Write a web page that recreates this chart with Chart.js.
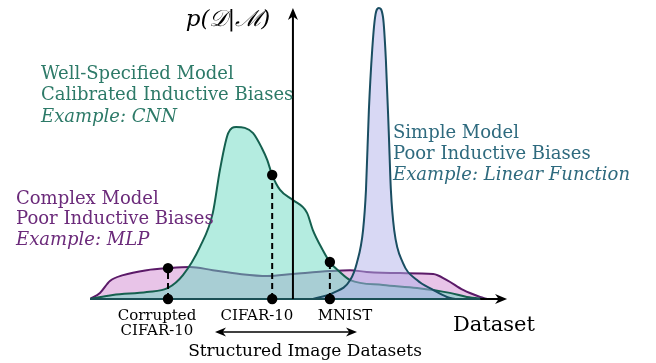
<!DOCTYPE html>
<html><head><meta charset="utf-8">
<script src="https://cdn.jsdelivr.net/npm/chart.js@4"></script>
<style>html,body{margin:0;padding:0;background:#fff;}#wrap{width:656px;height:363px;position:relative}</style>
</head><body><div id="wrap"><canvas id="c"></canvas></div>
<script>
// Complex model (MLP) density over datasets
const mlpX = [0, 2.4, 4.8, 8.0, 13.7, 18.8, 24.1, 29.6, 36.1, 42.7, 48.9, 57.8, 62.7, 66.7, 74.7, 82.7, 86.0, 89.9, 94.0, 95.7];
const mlpY = [0, 2.1, 6.2, 8.2, 9.9, 10.6, 11.0, 9.9, 8.6, 7.9, 8.6, 9.6, 9.9, 9.3, 8.9, 8.6, 6.5, 3.1, 0.7, 0];
// Well-specified model (CNN)
const cnnX = [0, 5.5, 13.7, 18.8, 22.4, 26.5, 29.6, 31.3, 33.3, 35.2, 37.3, 39.3, 41.4, 42.7, 43.9, 45.8, 48.9, 52.3, 53.7, 56.1, 57.8, 60.2, 62.7, 70.6, 78.8, 86.7, 90.8, 95.2];
const cnnY = [0, 1.4, 2.4, 3.8, 8.2, 17.9, 29.6, 44.3, 57.0, 59.1, 58.8, 57.0, 51.9, 47.8, 42.6, 37.5, 34.0, 29.6, 23.7, 16.8, 12.7, 9.3, 6.5, 4.8, 3.8, 2.1, 0.7, 0];
// Simple model (linear function)
const linX = [53.7, 58.6, 62.7, 64.3, 65.8, 66.5, 67.2, 68.0, 68.7, 69.6, 70.6, 71.3, 72.0, 72.5, 73.3, 75.4, 78.8, 82.7, 86.0, 88.0];
const linY = [0, 2.1, 6.5, 12.4, 23.7, 37.5, 64.9, 85.6, 96.9, 100, 96.9, 82.1, 57.0, 37.5, 23.7, 12.4, 6.5, 3.1, 0.7, 0];
// Marked datasets
const dataNames = [["Corrupted", "CIFAR-10"], ["CIFAR-10"], ["MNIST"]];
const dataX = [18.8, 43.9, 57.8];
const dataY = [10.6, 42.6, 12.7];

const pts = (xs, ys) => xs.map((x, i) => ({x, y: ys[i]}));
const SERIF = '"DejaVu Serif", "Liberation Serif", serif';

const datasets = [
  {label: 'MLP', data: pts(mlpX, mlpY), borderColor: '#5b1a68', backgroundColor: 'rgba(209,137,209,0.5)', fill: 'origin', borderWidth: 2, pointRadius: 0, cubicInterpolationMode: 'monotone', order: 5},
  {label: 'CNN', data: pts(cnnX, cnnY), borderColor: '#15604f', backgroundColor: 'rgba(105,217,193,0.5)', fill: 'origin', borderWidth: 2, pointRadius: 0, cubicInterpolationMode: 'monotone', order: 4},
  {label: 'Linear', data: pts(linX, linY), borderColor: '#1a4e62', backgroundColor: 'rgba(177,177,233,0.5)', fill: 'origin', borderWidth: 2, pointRadius: 0, cubicInterpolationMode: 'monotone', order: 3, clip: false},
];
dataX.forEach((x, i) => {
  datasets.push({label: 'drop' + i, data: [{x, y: 0}, {x, y: dataY[i]}], borderColor: '#000', borderWidth: 2, borderDash: [6, 4], pointRadius: 0, fill: false, order: 2, clip: false});
});
datasets.push({label: 'dots', data: dataX.flatMap((x, i) => [{x, y: 0}, {x, y: dataY[i]}]), showLine: false, pointRadius: 5.2, pointBorderWidth: 0, pointBackgroundColor: '#000', pointBorderColor: '#000', order: 1, clip: false});

function arrowHead(ctx, x, y, ang, len, wid) {
  ctx.save(); ctx.translate(x, y); ctx.rotate(ang);
  ctx.beginPath(); ctx.moveTo(0, 0); ctx.lineTo(-len, -wid); ctx.lineTo(-len * 0.7, 0); ctx.lineTo(-len, wid); ctx.closePath();
  ctx.fill(); ctx.restore();
}

const deco = {
  id: 'deco',
  afterDatasetDraw(chart, args) {
    if (args.index !== 2) return; // draw axes right after the last density curve
    const ctx = chart.ctx, xs = chart.scales.x, ys = chart.scales.y;
    const y0 = ys.getPixelForValue(0);
    ctx.save();
    ctx.lineWidth = 2;
    ctx.strokeStyle = '#1b4f55';
    ctx.beginPath(); ctx.moveTo(xs.getPixelForValue(0), y0); ctx.lineTo(xs.getPixelForValue(94), y0); ctx.stroke();
    ctx.strokeStyle = '#000'; ctx.fillStyle = '#000';
    ctx.beginPath(); ctx.moveTo(xs.getPixelForValue(94), y0); ctx.lineTo(xs.getPixelForValue(99), y0); ctx.stroke();
    arrowHead(ctx, xs.getPixelForValue(100.5), y0, 0, 12, 5);
    const ax = xs.getPixelForValue(48.9);
    ctx.beginPath(); ctx.moveTo(ax, y0); ctx.lineTo(ax, ys.getPixelForValue(98)); ctx.stroke();
    arrowHead(ctx, ax, ys.getPixelForValue(100), -Math.PI / 2, 12, 5);
    ctx.restore();
  },
  afterDatasetsDraw(chart) {
    const ctx = chart.ctx;
    ctx.save();
    ctx.strokeStyle = '#000'; ctx.fillStyle = '#000';
    // double arrow under dataset names
    const ay = 332, a1 = 215, a2 = 357;
    ctx.lineWidth = 1.6;
    ctx.beginPath(); ctx.moveTo(a1 + 6, ay); ctx.lineTo(a2 - 6, ay); ctx.stroke();
    arrowHead(ctx, a1, ay, Math.PI, 11, 4.5);
    arrowHead(ctx, a2, ay, 0, 11, 4.5);

    ctx.textBaseline = 'middle';
    const block = (lines, x, y0, step, color, size) => {
      ctx.fillStyle = color; ctx.textAlign = 'left';
      lines.forEach((l, i) => { ctx.font = (i === 2 ? 'italic ' : '') + size + 'px ' + SERIF; ctx.fillText(l, x, y0 + i * step); });
    };
    block(['Well-Specified Model', 'Calibrated Inductive Biases', 'Example: CNN'], 41, 74, 21.5, '#2d7a68', 18);
    block(['Complex Model', 'Poor Inductive Biases', 'Example: MLP'], 16, 199, 20.5, '#6b2a7a', 18);
    block(['Simple Model', 'Poor Inductive Biases', 'Example: Linear Function'], 393, 133, 21, '#2e6a7e', 18);

    ctx.fillStyle = '#000';
    ctx.font = 'italic 23px ' + SERIF; ctx.textAlign = 'center';
    ctx.fillText('p(𝒟|ℳ)', 228, 20);
    ctx.font = '21px ' + SERIF; ctx.textAlign = 'left';
    ctx.fillText('Dataset', 453, 326);
    ctx.font = '15px ' + SERIF; ctx.textAlign = 'center';
    const lblX = [157, 257, 345];
    dataNames.forEach((lines, i) => lines.forEach((l, j) => ctx.fillText(l, lblX[i], 316 + j * 15)));
    ctx.font = '17px ' + SERIF;
    ctx.fillText('Structured Image Datasets', 305, 352);
    ctx.restore();
  }
};

new Chart(document.getElementById('c'), {
  type: 'line',
  data: {datasets},
  options: {
    responsive: true, maintainAspectRatio: false, animation: false,
    layout: {padding: {left: 90, right: 151, top: 8, bottom: 64}},
    plugins: {legend: {display: false}, tooltip: {enabled: false}},
    scales: {
      x: {type: 'linear', min: 0, max: 100, display: false},
      y: {type: 'linear', min: 0, max: 100, display: false}
    },
    elements: {line: {tension: 0}}
  },
  plugins: [deco]
});
</script>
</body></html>
